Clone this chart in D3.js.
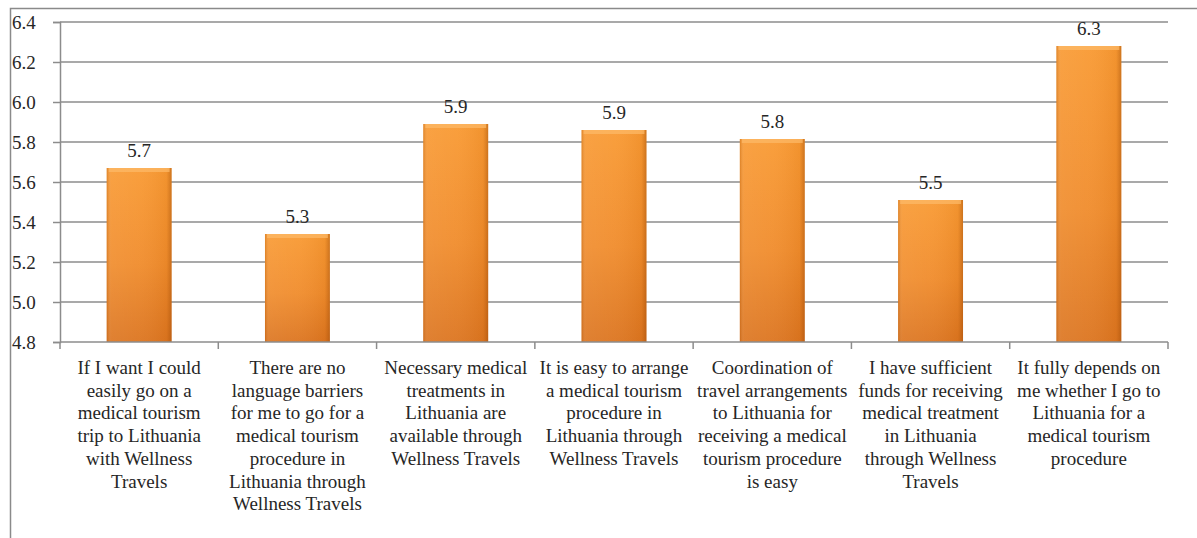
<!DOCTYPE html>
<html><head><meta charset="utf-8">
<script src="https://cdn.jsdelivr.net/npm/d3@7"></script>
<style>
html,body{margin:0;padding:0;background:#fff;}
svg{display:block;}
#chart text{font-family:"Liberation Serif","Times New Roman",Tinos,serif !important;}
</style></head>
<body>
<svg id="chart" width="1197" height="538"></svg>
<script>
const categories = [
  ["If I want I could","easily go on a","medical tourism","trip to Lithuania","with Wellness","Travels"],
  ["There are no","language barriers","for me to go for a","medical tourism","procedure in","Lithuania through","Wellness Travels"],
  ["Necessary medical","treatments in","Lithuania are","available through","Wellness Travels"],
  ["It is easy to arrange","a medical tourism","procedure in","Lithuania through","Wellness Travels"],
  ["Coordination of","travel arrangements","to Lithuania for","receiving a medical","tourism procedure","is easy"],
  ["I have sufficient","funds for receiving","medical treatment","in Lithuania","through Wellness","Travels"],
  ["It fully depends on","me whether I go to","Lithuania for a","medical tourism","procedure"]
];
const values = [5.67, 5.34, 5.89, 5.86, 5.815, 5.51, 6.28];
const yTicks = [4.8, 5.0, 5.2, 5.4, 5.6, 5.8, 6.0, 6.2, 6.4];

(function(){
const svg = d3.select("#chart");
const pL = 60, pR = 1168, pT = 22, pB = 342;
const fs = 19;

const defs = svg.append("defs");
const gv = defs.append("linearGradient").attr("id","gv").attr("x1",0).attr("y1",0).attr("x2",0).attr("y2",1);
gv.append("stop").attr("offset","0").attr("stop-color","#F99A33");
gv.append("stop").attr("offset","0.55").attr("stop-color","#F08C2C");
gv.append("stop").attr("offset","1").attr("stop-color","#DC7520");
const gh = defs.append("linearGradient").attr("id","gh").attr("x1",0).attr("y1",0).attr("x2",1).attr("y2",0);
gh.append("stop").attr("offset","0").attr("stop-color","#a04a00").attr("stop-opacity",0.3);
gh.append("stop").attr("offset","0.07").attr("stop-color","#ffffff").attr("stop-opacity",0.08);
gh.append("stop").attr("offset","0.5").attr("stop-color","#ffffff").attr("stop-opacity",0.05);
gh.append("stop").attr("offset","0.92").attr("stop-color","#a04a00").attr("stop-opacity",0.08);
gh.append("stop").attr("offset","1").attr("stop-color","#8a3c00").attr("stop-opacity",0.4);

// outer frame
svg.append("path").attr("d","M10.5,538 V8.5 H1197").attr("fill","none").attr("stroke","#8a8a8a").attr("stroke-width",1.5);

const x = d3.scaleBand().domain(d3.range(categories.length)).range([pL, pR]).padding(0);
const y = d3.scaleLinear().domain([4.8, 6.4]).range([pB, pT]);

// gridlines
svg.append("g").selectAll("line").data(yTicks.slice(1)).join("line")
  .attr("x1", pL).attr("x2", pR)
  .attr("y1", d => y(d)).attr("y2", d => y(d))
  .attr("stroke","#8c8c8c").attr("stroke-width",1.5);

// y axis
const yAxis = svg.append("g").attr("transform",`translate(${pL},0)`)
  .call(d3.axisLeft(y).tickValues(yTicks).tickSize(7).tickFormat(d3.format(".1f")));
yAxis.attr("font-family", null).attr("font-size", fs);
yAxis.select(".domain").attr("stroke","#8c8c8c").attr("stroke-width",1.5);
yAxis.selectAll(".tick line").attr("stroke","#8c8c8c").attr("stroke-width",1.5);
yAxis.selectAll(".tick text").attr("x", 12 - pL).attr("text-anchor","start")
  .attr("font-size", fs).attr("fill","#262626");

// bars
const bw = x.bandwidth() * 0.41;
const bars = svg.append("g");
bars.selectAll("rect.b").data(values).join("rect").attr("class","b")
  .attr("x",(d,i)=>x(i)+x.bandwidth()/2-bw/2).attr("width",bw)
  .attr("y",d=>y(d)).attr("height",d=>pB-y(d))
  .attr("fill","url(#gv)");
bars.selectAll("rect.h").data(values).join("rect").attr("class","h")
  .attr("x",(d,i)=>x(i)+x.bandwidth()/2-bw/2).attr("width",bw)
  .attr("y",d=>y(d)).attr("height",d=>pB-y(d))
  .attr("fill","url(#gh)");
bars.selectAll("rect.t").data(values).join("rect").attr("class","t")
  .attr("x",(d,i)=>x(i)+x.bandwidth()/2-bw/2+2).attr("width",bw-4)
  .attr("y",d=>y(d)).attr("height",4)
  .attr("fill","#FDBB6A").attr("opacity",0.7);

// x axis
const xAxis = svg.append("g").attr("transform",`translate(0,${pB})`);
xAxis.append("line").attr("x1",pL).attr("x2",pR).attr("stroke","#8c8c8c").attr("stroke-width",1.5);
xAxis.selectAll("line.tk").data(d3.range(categories.length+1)).join("line").attr("class","tk")
  .attr("x1",i=>pL+i*x.step()).attr("x2",i=>pL+i*x.step())
  .attr("y1",0).attr("y2",7).attr("stroke","#8c8c8c").attr("stroke-width",1.5);

// value labels
svg.append("g").selectAll("text").data(values).join("text")
  .attr("x",(d,i)=>x(i)+x.bandwidth()/2).attr("y",d=>y(d)-11)
  .attr("text-anchor","middle").attr("font-size", fs).attr("fill","#262626")
  .text(d=>d3.format(".1f")(d));

// category labels
const lg = svg.append("g").selectAll("g").data(categories).join("g")
  .attr("transform",(d,i)=>`translate(${x(i)+x.bandwidth()/2},374)`);
lg.selectAll("text").data(d=>d).join("text")
  .attr("text-anchor","middle").attr("font-size", fs).attr("fill","#262626")
  .attr("y",(d,j)=>j*22.7)
  .text(d=>d);
})();
</script>
</body></html>
